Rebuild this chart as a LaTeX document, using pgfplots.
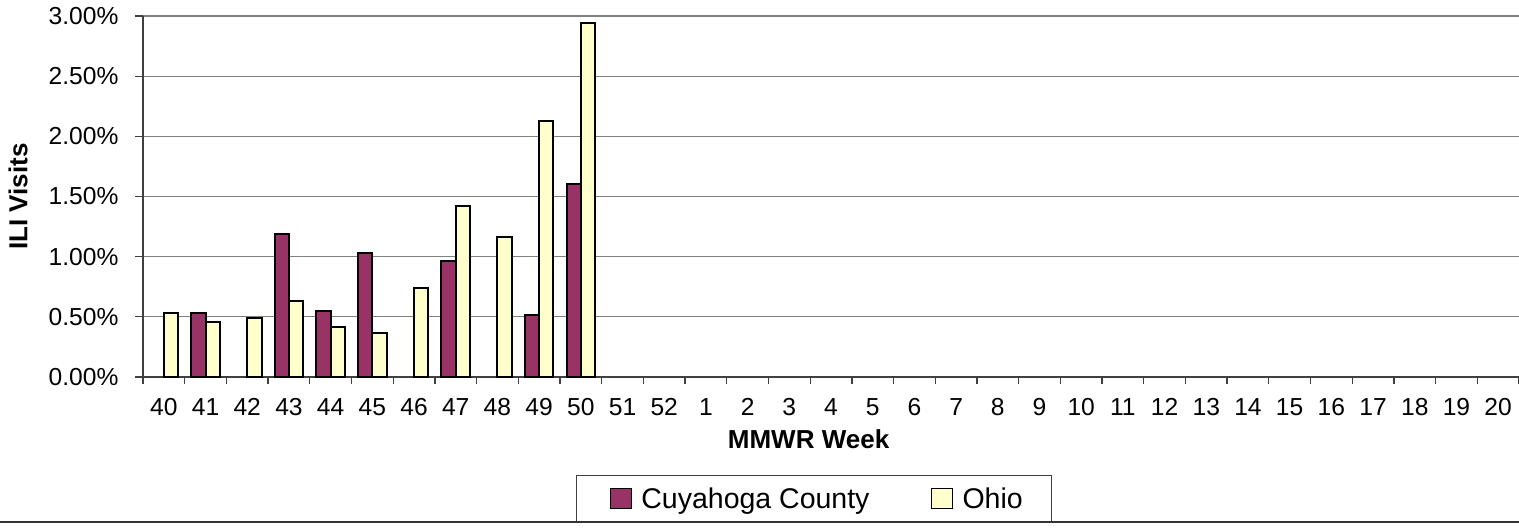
\documentclass[border=0pt]{standalone}
\usepackage{pgfplots}
\pgfplotsset{compat=1.18}
\usepackage{fontspec}
\setmainfont{Liberation Sans}
\definecolor{cuyahoga}{HTML}{993366}
\definecolor{ohio}{HTML}{FFFFCC}
\definecolor{gridgray}{HTML}{808080}

\pgfplotstableread{
x val
1 0.533
3 1.187
4 0.550
5 1.033
7 0.967
9 0.519
10 1.600
}\cuyahogadata

\pgfplotstableread{
x val
0 0.533
1 0.453
2 0.487
3 0.633
4 0.417
5 0.367
6 0.737
7 1.417
8 1.165
9 2.130
10 2.945
}\ohiodata

\begin{document}
\begin{tikzpicture}
\begin{axis}[
    name=ax,
    scale only axis,
    width=1376pt, height=361pt,
    xmin=-0.5, xmax=32.5,
    ymin=0, ymax=3,
    ybar=0pt, bar width=14.3pt,
    axis x line=bottom, axis y line=left,
    axis line style={-, draw=black!75, line width=1.5pt},
    tick align=outside,
    xtick={0,...,32},
    xticklabels={40,41,42,43,44,45,46,47,48,49,50,51,52,1,2,3,4,5,6,7,8,9,10,11,12,13,14,15,16,17,18,19,20},
    minor xtick={-0.5,0.5,...,32.5},
    x tick style={draw=none},
    minor x tick style={draw=black!75, line width=1.3pt},
    minor tick length=7pt,
    ytick={0,0.5,...,3},
    y tick style={draw=black!75, line width=1.3pt},
    major tick length=8pt,
    ymajorgrids,
    major grid style={draw=gridgray, line width=1.3pt},
    /pgf/number format/assume math mode=true,
    yticklabel={\pgfmathprintnumber[fixed,fixed zerofill,precision=2]{\tick}\%},
    tick label style={font=\fontsize{24.6}{28}\selectfont},
    xticklabel style={yshift=-10pt},
    yticklabel style={xshift=-13pt},
    xlabel={\textbf{MMWR Week}},
    ylabel={\textbf{ILI Visits}},
    label style={font=\fontsize{26}{30}\selectfont},
    xlabel style={at={(axis description cs:0.4837,-0.1717)}, anchor=center},
    ylabel style={at={(axis description cs:-0.0908,0.5)}, anchor=center},
    legend columns=2,
    legend style={at={(axis description cs:0.4877,-0.3366)}, anchor=center,
        draw=black!75, line width=1.3pt, font=\fontsize{28.5}{32}\selectfont,
        inner xsep=27pt, inner ysep=10pt,
        /tikz/every even column/.append style={column sep=53pt}},
    legend image code/.code={\path (0pt,0pt) (34pt,0pt); \draw[#1, line width=1.8pt] (6pt,-10pt) rectangle (27pt,10pt);},
]
\addplot[fill=cuyahoga, draw=black, line width=2pt] table[x=x, y=val] {\cuyahogadata};
\addplot[fill=ohio, draw=black, line width=2pt] table[x=x, y=val] {\ohiodata};
\legend{Cuyahoga County, Ohio}
\end{axis}
\pgfresetboundingbox
\path[use as bounding box] ([xshift=-143pt, yshift=-152pt]ax.south west) rectangle ([yshift=16pt]ax.north east);
\draw[black!80, line width=1.5pt] ([xshift=-143pt, yshift=-145pt]ax.south west) -- ([yshift=-145pt]ax.south east);
\end{tikzpicture}
\end{document}
